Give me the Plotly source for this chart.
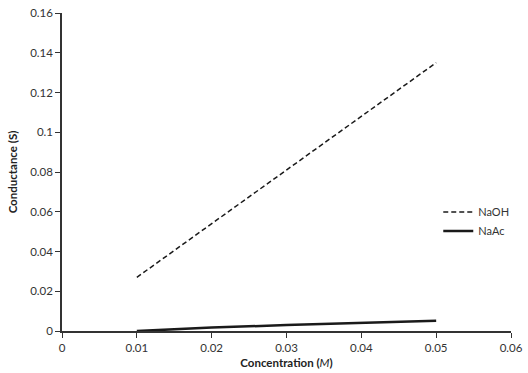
import plotly.graph_objects as go

concentration = [0.01, 0.02, 0.03, 0.04, 0.05]
naoh = [0.027, 0.054, 0.081, 0.108, 0.135]
naac = [0.0, 0.0017, 0.003, 0.0041, 0.0052]
x_ticks = [0, 0.01, 0.02, 0.03, 0.04, 0.05, 0.06]
x_labels = ["0", "0.01", "0.02", "0.03", "0.04", "0.05", "0.06"]
y_ticks = [0, 0.02, 0.04, 0.06, 0.08, 0.1, 0.12, 0.14, 0.16]
y_labels = ["0", "0.02", "0.04", "0.06", "0.08", "0.1", "0.12", "0.14", "0.16"]

fig = go.Figure()
fig.add_trace(go.Scatter(x=concentration, y=naoh, mode="lines", name="NaOH",
                         line=dict(color="#1a1a1a", width=1.5, dash="5px,3px")))
fig.add_trace(go.Scatter(x=concentration, y=naac, mode="lines", name="NaAc",
                         line=dict(color="#1a1a1a", width=2.5)))

font_family = "Lato, 'DejaVu Sans', sans-serif"
axis_common = dict(showgrid=False, zeroline=False, showline=True, linecolor="#333333",
                   linewidth=1.5, ticks="outside", ticklen=5, tickwidth=1.2, tickcolor="#333333",
                   automargin=False, ticklabeloverflow="allow",
                   tickfont=dict(family=font_family, size=11.5, color="#333333"))

fig.update_layout(
    width=528, height=373,
    margin=dict(l=62, r=17, t=13, b=42),
    paper_bgcolor="white", plot_bgcolor="white",
    font=dict(family=font_family, size=11, color="#222222"),
    xaxis=dict(range=[0, 0.06], tickvals=x_ticks, ticktext=x_labels,
               title=dict(text="<b>Concentration (</b><i>M</i><b>)</b>", standoff=6,
                          font=dict(size=11.5, family=font_family)),
               **axis_common),
    yaxis=dict(range=[0, 0.16], tickvals=y_ticks, ticktext=y_labels,
               title=dict(text="<b>Conductance (S)</b>", standoff=10,
                          font=dict(size=11.5, family=font_family)),
               **axis_common),
    legend=dict(x=0.838, y=0.42, xanchor="left", yanchor="top",
                bgcolor="rgba(0,0,0,0)", font=dict(size=11, family=font_family, color="#333333"),
                tracegroupgap=0, itemwidth=30),
    showlegend=True,
)

fig.write_html("out.html", config={"displayModeBar": False},
               post_script="document.body.style.margin='0px';")
